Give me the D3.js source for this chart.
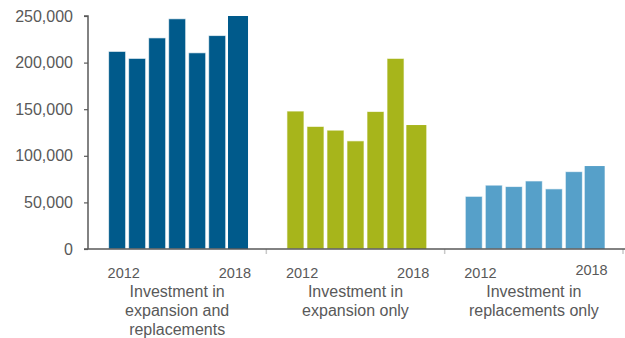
<!DOCTYPE html>
<html>
<head>
<meta charset="utf-8">
<script src="https://cdn.jsdelivr.net/npm/d3@7/dist/d3.min.js"></script>
<style>
  html, body { margin: 0; padding: 0; background: #fff; }
  svg { display: block; font-family: "Liberation Sans", Arial, sans-serif; }
</style>
</head>
<body>
<svg id="chart" width="625" height="338"></svg>
<script>
// Investment by type, 2012–2018
const categories = [
  ["Investment in", "expansion and", "replacements"],
  ["Investment in", "expansion only"],
  ["Investment in", "replacements only"]
];
const years = [2012, 2013, 2014, 2015, 2016, 2017, 2018];
const expansionAndReplacements = [212000, 204500, 226500, 247000, 210500, 229000, 250000];
const expansionOnly = [148000, 131500, 127500, 116000, 147500, 204500, 133000];
const replacementsOnly = [56500, 68500, 67000, 73000, 64500, 83000, 89000];
const yTicks = [0, 50000, 100000, 150000, 200000, 250000];

const seriesValues = [expansionAndReplacements, expansionOnly, replacementsOnly];
const colors = ["#005a8b", "#a7b51b", "#56a0c9"];
const gray = "#595959";

const svg = d3.select("#chart");
const plotLeft = 88, plotRight = 623, plotTop = 16, plotBottom = 249;

const groupKeys = categories.map((d, i) => i);
const x0 = d3.scaleBand().domain(groupKeys).range([plotLeft, plotRight]).padding(0);
const x1 = d3.scaleBand().domain(years).range([0, x0.bandwidth()])
  .paddingInner(0.15).paddingOuter(1.03);
const y = d3.scaleLinear().domain([0, 250000]).range([plotBottom, plotTop]);

// bars
groupKeys.forEach(g => {
  const grp = svg.append("g").attr("transform", `translate(${x0(g)},0)`);
  grp.selectAll("rect")
    .data(years.map((yr, i) => ({ yr, v: seriesValues[g][i], last: i === years.length - 1 })))
    .join("rect")
    .attr("x", d => d.last ? x1(d.yr) - 0.7 : x1(d.yr))
    .attr("width", d => d.last ? x1.step() : x1.bandwidth())
    .attr("y", d => y(d.v))
    .attr("height", d => y(0) - y(d.v))
    .attr("fill", colors[g])
    .attr("stroke", d => d.last ? "none" : "#fff")
    .attr("stroke-opacity", 0.65)
    .attr("stroke-width", 1);

  // first and last year labels
  grp.append("text")
    .attr("x", x1(years[0]) - 1)
    .attr("y", 278)
    .attr("font-size", 14.5)
    .attr("fill", gray)
    .attr("text-anchor", "start")
    .text(years[0]);
  grp.append("text")
    .attr("x", x1(years[years.length - 1]) - 0.7 + x1.step() + 3)
    .attr("y", g === 2 ? 275 : 278)
    .attr("font-size", 14.5)
    .attr("fill", gray)
    .attr("text-anchor", "end")
    .text(years[years.length - 1]);

  // category label
  const t = grp.append("text")
    .attr("x", x0.bandwidth() / 2)
    .attr("y", 297)
    .attr("font-size", 16)
    .attr("fill", gray)
    .attr("text-anchor", "middle");
  categories[g].forEach((line, i) => {
    t.append("tspan").attr("x", x0.bandwidth() / 2).attr("dy", i === 0 ? 0 : 19).text(line);
  });
});

// group separators on the baseline
svg.append("g").selectAll("line")
  .data(groupKeys.slice(1).map(g => x0(g)).concat([plotRight]))
  .join("line")
  .attr("x1", d => d).attr("x2", d => d)
  .attr("y1", plotBottom).attr("y2", plotBottom + 5)
  .attr("stroke", "#c8c8c8").attr("stroke-width", 1.5);

// baseline
svg.append("line")
  .attr("x1", plotLeft - 4).attr("x2", 625)
  .attr("y1", plotBottom).attr("y2", plotBottom)
  .attr("stroke", gray).attr("stroke-width", 1.5);

// y axis
const yAxis = d3.axisLeft(y).tickValues(yTicks).tickFormat(d3.format(",")).tickSize(4).tickPadding(11);
const ya = svg.append("g").attr("transform", `translate(${plotLeft},0)`).call(yAxis);
ya.select(".domain").attr("stroke", gray).attr("stroke-width", 1.5).attr("d", `M-4,${plotTop}H0V${plotBottom}`);
ya.selectAll(".tick line").attr("stroke", gray).attr("stroke-width", 1.2);
ya.selectAll(".tick text")
  .attr("fill", gray)
  .attr("font-size", 16)
  .attr("font-family", "Liberation Sans, Arial, sans-serif");
</script>
</body>
</html>
